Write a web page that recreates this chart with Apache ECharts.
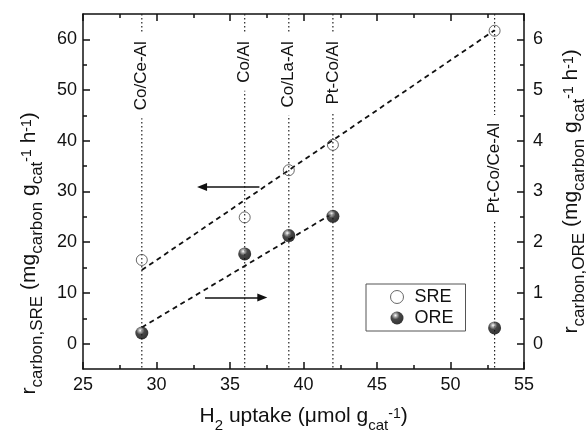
<!DOCTYPE html>
<html>
<head>
<meta charset="utf-8">
<script src="https://cdn.jsdelivr.net/npm/echarts@6/dist/echarts.min.js"></script>
<style>
  html, body { margin: 0; padding: 0; background: #fff; }
  #chart { width: 588px; height: 431px; }
</style>
</head>
<body>
<div id="chart"></div>
<script>
// H2 uptake of each catalyst (x)
const catalysts = ['Co/Ce-Al', 'Co/Al', 'Co/La-Al', 'Pt-Co/Al', 'Pt-Co/Ce-Al'];
const h2Uptake = [29, 36, 39, 42, 53];
// carbon formation rates
const sreRate = [16.5, 24.9, 34.2, 39.2, 61.7];   // left axis
const oreRate = [0.21, 1.77, 2.13, 2.51, 0.31];   // right axis
// dashed trend lines (end points)
const sreFit = [[29, 14.5], [53, 61.8]];
const oreFit = [[29, 0.32], [42, 2.57]];
// arrows telling which axis belongs to which set
const sreArrow = [[37.0, 30.9], [33.1, 30.9]];
const oreArrow = [[33.3, 0.91], [37.2, 0.91]];
// where the rotated catalyst labels end (left-axis units)
const labelTop = [61.2, 61.2, 61.2, 61.2, 45.1];

const leftTicks = [0, 10, 20, 30, 40, 50, 60];
const leftMinor = [5, 15, 25, 35, 45, 55];
const rightTicks = [0, 1, 2, 3, 4, 5, 6];
const rightMinor = [0.5, 1.5, 2.5, 3.5, 4.5, 5.5];

const FONT = '"Liberation Sans", Arial, sans-serif';
const AXIS_COLOR = '#111';

const myChart = echarts.init(document.getElementById('chart'));

// rich text for the axis titles (sub/superscripts)
function richText(main, sub, sup) {
  return {
    pad: {fontSize: 1, lineHeight: 34},
    m: {fontSize: main, fontFamily: FONT, color: '#111', lineHeight: main, verticalAlign: 'middle'},
    sub: {fontSize: sub, fontFamily: FONT, color: '#111', lineHeight: sub, verticalAlign: 'bottom'},
    sup: {fontSize: sup, fontFamily: FONT, color: '#111', lineHeight: sup, verticalAlign: 'top', padding: [8, 0, 0, 0]}
  };
}

function yName(tag) {
  return '{pad| }{m|r}{sub|carbon,' + tag + '}{m| (mg}{sub|carbon}{m| g}{sub|cat}{sup|-1}{m| h}{sup|-1}{m|)}';
}

function yAxisBase(pos, min, max) {
  return {
    type: 'value',
    position: pos,
    min: min,
    max: max,
    splitLine: {show: false},
    axisLine: {show: true, onZero: false, lineStyle: {color: AXIS_COLOR, width: 1.5}},
  };
}

const option = {
  animation: false,
  backgroundColor: '#fff',
  grid: {left: 83, right: 64, top: 14, bottom: 62, containLabel: false, outerBoundsMode: 'none'},
  legend: {
    data: ['SRE', 'ORE'],
    orient: 'vertical',
    left: 366,
    top: 284,
    padding: [4, 12, 4, 24],
    itemGap: 3,
    itemWidth: 13,
    itemHeight: 13,
    borderColor: '#555',
    borderWidth: 1,
    textStyle: {fontSize: 18, fontFamily: FONT, color: '#111', padding: [0, 0, 0, 6]},
    itemStyle: {borderWidth: 'inherit'}
  },
  xAxis: [
    {
      type: 'value',
      position: 'bottom',
      min: 25, max: 55, interval: 5,
      name: '{pad| }{m|H}{sub|2}{m| uptake (\u03bcmol g}{sub|cat}{sup|-1}{m|)}',
      nameLocation: 'middle',
      nameGap: 30,
      nameTextStyle: {rich: richText(21, 15, 14)},
      splitLine: {show: false},
      axisLine: {onZero: false, lineStyle: {color: AXIS_COLOR, width: 1.5}},
      axisTick: {inside: true, length: 7, lineStyle: {width: 1.5}},
      minorTick: {show: true, splitNumber: 2, length: 4, lineStyle: {color: AXIS_COLOR, width: 1.5}},
      axisLabel: {fontSize: 18, fontFamily: FONT, color: '#111', margin: 7}
    },
    {
      type: 'value',
      position: 'top',
      min: 25, max: 55, interval: 5,
      splitLine: {show: false},
      axisLine: {onZero: false, lineStyle: {color: AXIS_COLOR, width: 1.5}},
      axisTick: {inside: true, length: 7, lineStyle: {width: 1.5}},
      minorTick: {show: true, splitNumber: 2, length: 4, lineStyle: {color: AXIS_COLOR, width: 1.5}},
      axisLabel: {show: false}
    }
  ],
  yAxis: [
    Object.assign(yAxisBase('left', -5, 65), {
      name: yName('SRE'),
      nameLocation: 'middle',
      nameGap: 34,
      nameRotate: 90,
      nameTextStyle: {rich: richText(21, 17, 14), padding: [0, 124, 0, 0]},
      axisTick: {inside: true, length: 7, customValues: leftTicks, lineStyle: {width: 1.5}},
      axisLabel: {fontSize: 18, fontFamily: FONT, color: '#111', margin: 6, customValues: leftTicks}
    }),
    Object.assign(yAxisBase('right', -0.5, 6.5), {
      name: yName('ORE'),
      nameLocation: 'middle',
      nameGap: 22,
      nameRotate: 90,
      nameTextStyle: {rich: richText(21, 17, 14)},
      axisTick: {inside: true, length: 7, customValues: rightTicks, lineStyle: {width: 1.5}},
      axisLabel: {fontSize: 18, fontFamily: FONT, color: '#111', margin: 9, customValues: rightTicks}
    }),
    // minor ticks only
    Object.assign(yAxisBase('left', -5, 65), {
      axisLine: {show: false},
      axisTick: {inside: true, length: 4, customValues: leftMinor, lineStyle: {color: AXIS_COLOR, width: 1.5}},
      axisLabel: {show: false}
    }),
    Object.assign(yAxisBase('right', -0.5, 6.5), {
      axisLine: {show: false},
      axisTick: {inside: true, length: 4, customValues: rightMinor, lineStyle: {color: AXIS_COLOR, width: 1.5}},
      axisLabel: {show: false}
    })
  ],
  series: [
    {
      // dotted guide lines with the catalyst names
      name: 'catalysts',
      type: 'custom',
      z: 1,
      silent: true,
      xAxisIndex: 0,
      yAxisIndex: 0,
      data: h2Uptake.map((x, i) => [x, labelTop[i]]),
      renderItem: function (params, api) {
        const cs = params.coordSys;
        const p = api.coord([api.value(0), api.value(1)]);
        return {
          type: 'group',
          children: [
            {
              type: 'line',
              shape: {x1: p[0], y1: cs.y, x2: p[0], y2: cs.y + cs.height},
              style: {stroke: '#222', lineWidth: 1.2, lineDash: [1.5, 2.5]}
            },
            {
              type: 'text',
              x: p[0],
              y: p[1],
              rotation: Math.PI / 2,
              style: {
                text: catalysts[params.dataIndex],
                align: 'right',
                verticalAlign: 'middle',
                fill: '#111',
                font: '17px ' + FONT,
                backgroundColor: '#fff',
                padding: [0, 8]
              }
            }
          ]
        };
      }
    },
    {
      name: 'SRE fit',
      type: 'line',
      z: 2,
      silent: true,
      xAxisIndex: 0,
      yAxisIndex: 0,
      data: sreFit,
      symbol: 'none',
      lineStyle: {color: '#111', width: 1.8, type: [5, 4]},
      markLine: {
        silent: true,
        symbol: ['none', 'triangle'],
        symbolSize: [8, 10],
        label: {show: false},
        lineStyle: {color: '#111', width: 1.5, type: 'solid'},
        data: [[{coord: sreArrow[0]}, {coord: sreArrow[1]}]]
      }
    },
    {
      name: 'ORE fit',
      type: 'line',
      z: 2,
      silent: true,
      xAxisIndex: 0,
      yAxisIndex: 1,
      data: oreFit,
      symbol: 'none',
      lineStyle: {color: '#111', width: 1.8, type: [5, 4]},
      markLine: {
        silent: true,
        symbol: ['none', 'triangle'],
        symbolSize: [8, 10],
        label: {show: false},
        lineStyle: {color: '#111', width: 1.5, type: 'solid'},
        data: [[{coord: oreArrow[0]}, {coord: oreArrow[1]}]]
      }
    },
    {
      name: 'SRE',
      type: 'scatter',
      z: 3,
      xAxisIndex: 0,
      yAxisIndex: 0,
      data: h2Uptake.map((x, i) => [x, sreRate[i]]),
      symbol: 'circle',
      symbolSize: 11,
      itemStyle: {color: 'rgba(255,255,255,0)', borderColor: '#444', borderWidth: 1}
    },
    {
      name: 'ORE',
      type: 'scatter',
      z: 3,
      xAxisIndex: 0,
      yAxisIndex: 1,
      data: h2Uptake.map((x, i) => [x, oreRate[i]]),
      symbol: 'circle',
      symbolSize: 13,
      itemStyle: {
        color: new echarts.graphic.RadialGradient(0.38, 0.3, 0.7, [
          {offset: 0, color: '#ffffff'},
          {offset: 0.18, color: '#999'},
          {offset: 0.45, color: '#1a1a1a'},
          {offset: 1, color: '#000'}
        ])
      }
    }
  ]
};

myChart.setOption(option);
</script>
</body>
</html>
